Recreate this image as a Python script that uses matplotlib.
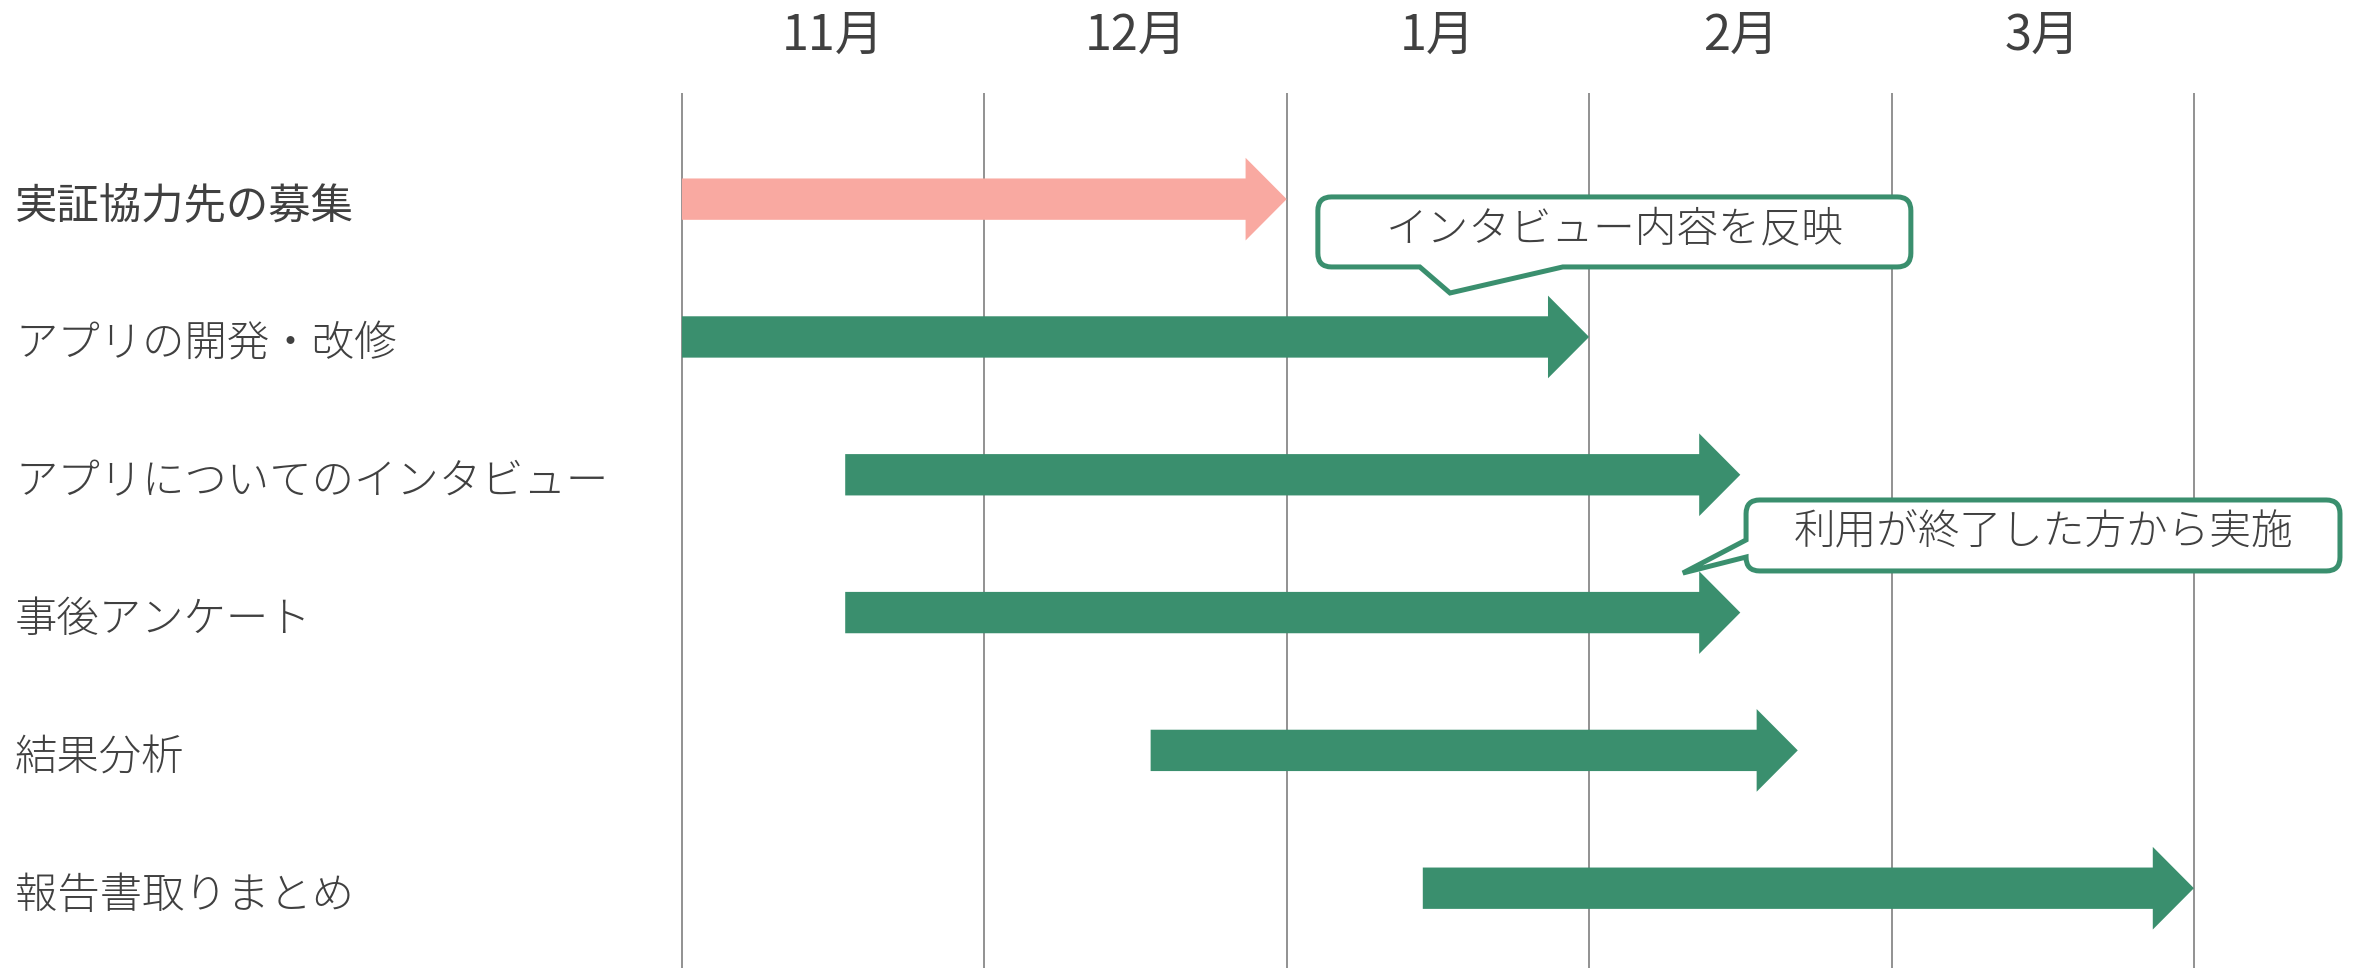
import matplotlib
matplotlib.use("Agg")
import matplotlib.pyplot as plt
from matplotlib.patches import FancyArrow, PathPatch
from matplotlib.path import Path

plt.rcParams['font.family'] = ['Noto Sans CJK JP', 'DejaVu Sans']

months = ['11月', '12月', '1月', '2月', '3月']
tasks = ['実証協力先の募集', 'アプリの開発・改修', 'アプリについてのインタビュー',
         '事後アンケート', '結果分析', '報告書取りまとめ']
# start / end in months counted from the start of November
starts = [0.0, 0.0, 0.54, 0.54, 1.55, 2.45]
ends = [2.0, 3.0, 3.5, 3.5, 3.69, 5.0]
colors = ['#F9A9A1', '#3A8F6E', '#3A8F6E', '#3A8F6E', '#3A8F6E', '#3A8F6E']

notes = ['インタビュー内容を反映', '利用が終了した方から実施']
note_boxes = [(2.103, 4.064, -0.051, 0.457), (3.519, 5.483, 2.148, 2.663)]
note_sides = ['bottom', 'left']
note_bases = [(2.440, 2.913), (2.438, 2.562)]
note_tips = [(2.540, 0.646), (3.310, 2.678)]

green = '#3A8F6E'
txt = '#404040'

fig = plt.figure(figsize=(23.56, 9.68), dpi=100)
ax = fig.add_axes([0, 0, 1, 1])
ax.set_xlim(-2.255, 5.536)
ax.set_ylim(5.544, -1.48)
ax.axis('off')

# month grid
ax.vlines(range(len(months) + 1), -0.805, 5.544, color='#7f7f7f', lw=1.2, zorder=1)
for i, m in enumerate(months):
    ax.text(i + 0.5, -1.22, m, ha='center', va='center', fontsize=35, color=txt)

# task labels + arrows
for i, (t, s, e, c) in enumerate(zip(tasks, starts, ends, colors)):
    ax.text(-2.205, i + 0.02, t, ha='left', va='center', fontsize=30.5, color=txt,
            fontweight='normal' if i == 0 else 'light')
    ax.add_patch(FancyArrow(s, i - 0.035, e - s, 0, width=0.30, head_width=0.60,
                            head_length=0.136, length_includes_head=True,
                            color=c, lw=0, zorder=2))


def bubble(x0, x1, y0, y1, side, base, tip, rx=0.045, ry=0.10):
    V = [(x0 + rx, y0)]
    C = [Path.MOVETO]

    def line(p):
        V.append(p)
        C.append(Path.LINETO)

    def corner(c, p):
        V.extend([c, p])
        C.extend([Path.CURVE3, Path.CURVE3])

    line((x1 - rx, y0))
    corner((x1, y0), (x1, y0 + ry))
    line((x1, y1 - ry))
    corner((x1, y1), (x1 - rx, y1))
    if side == 'bottom':
        line((base[1], y1))
        line(tip)
        line((base[0], y1))
    line((x0 + rx, y1))
    corner((x0, y1), (x0, y1 - ry))
    if side == 'left':
        line((x0, base[1]))
        line(tip)
        line((x0, base[0]))
    line((x0, y0 + ry))
    corner((x0, y0), (x0 + rx, y0))
    V.append((x0 + rx, y0))
    C.append(Path.CLOSEPOLY)
    return Path(V, C)


for n, b, sd, bs, tp in zip(notes, note_boxes, note_sides, note_bases, note_tips):
    x0, x1, y0, y1 = b
    ax.add_patch(PathPatch(bubble(x0, x1, y0, y1, sd, bs, tp), facecolor='white',
                           edgecolor=green, lw=3.6, joinstyle='miter', zorder=3))
    ax.text((x0 + x1) / 2, (y0 + y1) / 2 - 0.02, n, ha='center', va='center',
            fontsize=30, color=txt, fontweight='light', zorder=4)

fig.savefig('out.png', dpi=100)
